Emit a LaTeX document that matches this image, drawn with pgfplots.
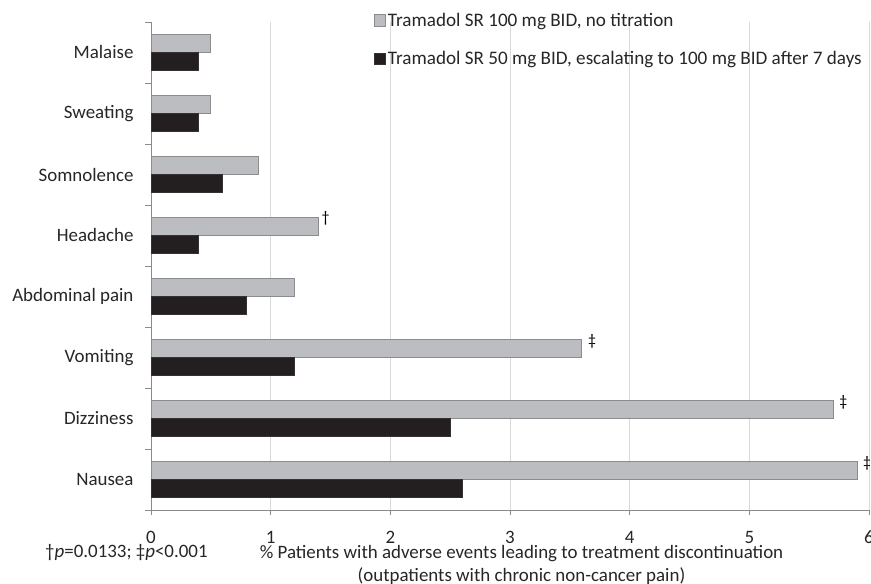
\documentclass[border=0pt]{standalone}
\usepackage{pgfplots}
\pgfplotsset{compat=1.18}
\usepackage{fontspec}
\setmainfont{Carlito}

\definecolor{barGray}{HTML}{BCBDC0}
\definecolor{barGrayEdge}{HTML}{8C8C8E}
\definecolor{barBlack}{HTML}{231F20}
\definecolor{axisGray}{HTML}{8A8A8A}
\definecolor{gridGray}{HTML}{D9D9D9}

\begin{document}
\begin{tikzpicture}[x=1bp,y=1bp]
\useasboundingbox (0,0) rectangle (871,584);
\begin{axis}[
  at={(151bp,74bp)}, anchor=south west,
  scale only axis, width=718bp, height=488bp,
  xmin=0, xmax=6, ymin=-0.5, ymax=7.5,
  axis x line*=bottom, axis y line*=left,
  axis line style={axisGray, line width=0.8bp},
  xtick={0,1,2,3,4,5,6},
  ytick={0,1,2,3,4,5,6,7},
  yticklabels={Nausea,Dizziness,Vomiting,Abdominal pain,Headache,Somnolence,Sweating,Malaise},
  minor ytick={-0.5,0.5,1.5,2.5,3.5,4.5,5.5,6.5,7.5},
  major tick length=0pt,
  minor tick length=6bp,
  tick align=outside,
  x tick style={axisGray, line width=0.8bp},
  extra x ticks={0,1,2,3,4,5,6}, extra x tick labels={},
  extra x tick style={major tick length=5bp, grid=none},
  minor tick style={axisGray, line width=0.8bp},
  xmajorgrids, major grid style={gridGray, line width=0.8bp},
  /pgf/number format/assume math mode=true,
  tick label style={font=\fontsize{19}{22}\selectfont, text=black!85},
  yticklabel style={xshift=-14bp},
  xticklabel style={inner sep=0pt, yshift=-21bp},
  xbar, bar width=17.6bp,
  legend style={at={(0.310,1.0235)}, anchor=north west, draw=none, fill=none,
    font=\fontsize{19.2}{23}\selectfont, text=black!85,
    row sep=20bp, inner sep=0pt, cells={anchor=west}},
  legend image code/.code={\draw[#1, line width=0.6bp] (0bp,-5.8bp) rectangle (11.6bp,5.8bp);},
]
% 100 mg BID without titration (upper bar of each pair)
\addplot[fill=barGray, draw=barGrayEdge, line width=0.8bp, bar shift=8.8bp]
  coordinates {(5.9,0) (5.7,1) (3.6,2) (1.2,3) (1.4,4) (0.9,5) (0.5,6) (0.5,7)};
\addlegendentry{Tramadol SR 100 mg BID, no titration}
% 50 mg BID escalated to 100 mg BID after 7 days (lower bar)
\addplot[fill=barBlack, draw=barBlack!80!gray, line width=0.8bp, bar shift=-8.8bp]
  coordinates {(2.6,0) (2.5,1) (1.2,2) (0.8,3) (0.4,4) (0.6,5) (0.4,6) (0.4,7)};
\addlegendentry{Tramadol SR 50 mg BID, escalating to 100 mg BID after 7 days}

% significance markers
\node[anchor=south west, font=\fontsize{16}{18}\selectfont, inner sep=0pt] at (axis cs:1.4,4) [xshift=3bp, yshift=10bp] {†};
\node[anchor=south west, font=\fontsize{16}{18}\selectfont, inner sep=0pt] at (axis cs:3.6,2) [xshift=6bp, yshift=9bp] {‡};
\node[anchor=south west, font=\fontsize{16}{18}\selectfont, inner sep=0pt] at (axis cs:5.7,1) [xshift=6bp, yshift=9bp] {‡};
\node[anchor=south west, font=\fontsize{16}{18}\selectfont, inner sep=0pt] at (axis cs:5.9,0) [xshift=6bp, yshift=9bp] {‡};
\end{axis}
\node[font=\fontsize{19}{23}\selectfont, text=black!85, align=center, inner sep=0pt] at (521.5,19.5)
  {\% Patients with adverse events leading to treatment discontinuation\\(outpatients with chronic non-cancer pain)};
\node[font=\fontsize{19}{22}\selectfont, text=black!85, anchor=west, inner sep=0pt] at (45,31)
  {†\textit{p}=0.0133; ‡\textit{p}<0.001};
\end{tikzpicture}
\end{document}
